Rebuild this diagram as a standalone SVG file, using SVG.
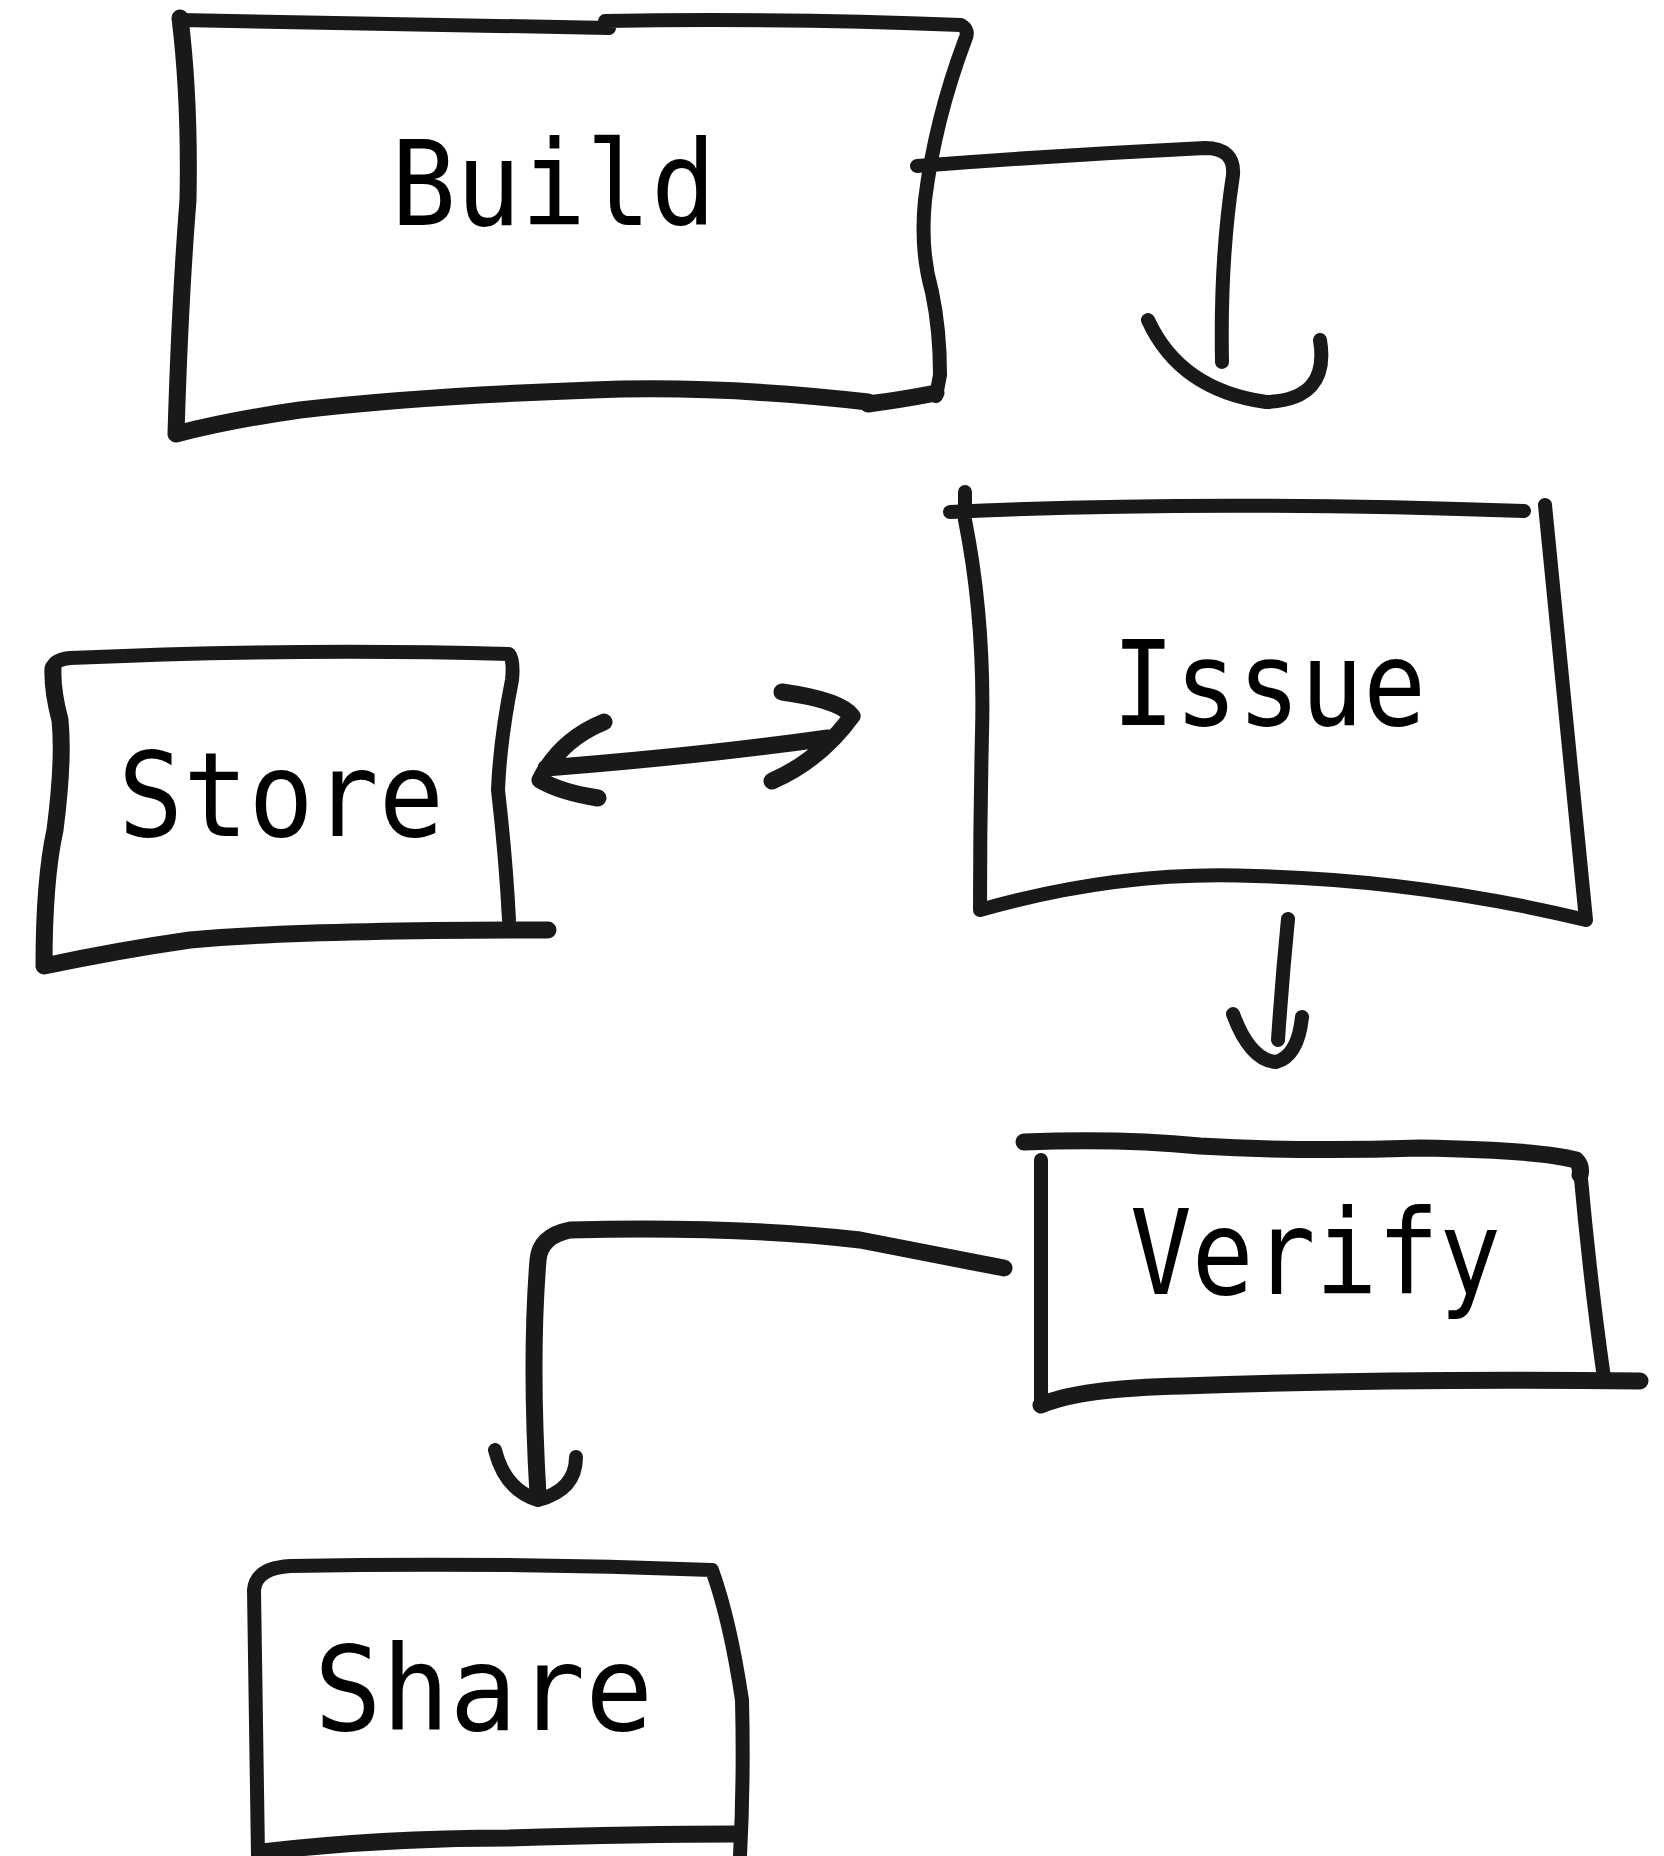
<svg xmlns="http://www.w3.org/2000/svg" width="1664" height="1856" viewBox="0 0 1664 1856">
<style>
.ln{fill:none;stroke:#1b1819;stroke-width:14;stroke-linecap:round;stroke-linejoin:round}
.th{stroke-width:17}
.lb{font-family:"DejaVu Sans Mono","Liberation Mono",monospace;font-size:118px;fill:#000}
</style>
<rect width="1664" height="1856" fill="#fff"/>
<g id="build">
<path class="ln" d="M180 20 L609 28 M605 21 Q780 18 961 25 Q970 30 965 40 Q935 120 925 200 Q920 250 932 292 Q940 330 940 375 L936 396"/>
<path class="ln th" d="M936 393 Q900 400 868 404 M868 402 Q720 385 592 390 Q420 396 300 410 Q230 420 176 434 Q180 300 188 200 Q190 100 180 18"/>
<text class="lb" x="391" y="225" textLength="325" lengthAdjust="spacingAndGlyphs">Build</text>
</g>
<g id="issue">
<path class="ln" d="M950 512 Q1200 500 1524 511 M965 492 L965 520 Q985 620 982 734 Q980 820 980 910 Q1120 870 1255 876 Q1420 880 1586 920 Q1566 720 1545 505"/>
<text class="lb" x="1112" y="725" textLength="314" lengthAdjust="spacingAndGlyphs">Issue</text>
</g>
<g id="store">
<path class="ln" d="M53 670 Q52 660 70 658 Q300 648 509 654 Q514 660 512 680 Q500 740 498 790 Q506 860 509 920"/>
<path class="ln th" d="M548 930 Q300 930 190 940 Q120 950 44 966 Q44 880 55 830 Q64 760 60 720 Q52 690 53 668"/>
<text class="lb" x="118" y="836" textLength="326" lengthAdjust="spacingAndGlyphs">Store</text>
</g>
<g id="verify">
<path class="ln th" d="M1024 1142 Q1120 1138 1200 1146 Q1302 1152 1420 1148 Q1540 1150 1576 1160 Q1582 1166 1580 1175"/>
<path class="ln" d="M1041 1160 L1041 1405 M1580 1168 Q1590 1280 1604 1378"/>
<path class="ln th" d="M1041 1405 Q1080 1388 1183 1386 Q1400 1378 1640 1381"/>
<text class="lb" x="1130" y="1294" textLength="371" lengthAdjust="spacingAndGlyphs">Verify</text>
</g>
<g id="share">
<path class="ln" d="M258 1856 Q256 1720 254 1590 Q256 1568 290 1566 Q500 1562 712 1570 Q730 1620 742 1700 Q744 1780 740 1856"/>
<path class="ln th" d="M262 1852 Q380 1838 509 1838 Q640 1834 736 1834"/>
<text class="lb" x="314" y="1730" textLength="339" lengthAdjust="spacingAndGlyphs">Share</text>
</g>
<g id="connectors">
<path class="ln" d="M917 166 Q1060 155 1205 148 Q1235 148 1233 175 Q1220 260 1222 362"/>
<path class="ln" d="M1148 320 Q1180 390 1266 402 Q1330 400 1320 340"/>
<path class="ln" d="M1288 919 Q1282 980 1278 1040 M1233 1014 Q1250 1060 1276 1062 Q1298 1056 1302 1017"/>
<path class="ln th" d="M546 768 Q700 756 828 738 M604 722 Q560 740 540 780 Q560 792 598 798 M782 692 Q840 700 852 716 Q820 760 772 781"/>
<path class="ln th" d="M1004 1268 Q900 1248 860 1240 Q740 1226 570 1230 Q540 1236 538 1260 Q530 1360 538 1495"/>
<path class="ln" d="M495 1450 Q505 1490 538 1500 Q576 1490 576 1457"/>
</g>
</svg>
